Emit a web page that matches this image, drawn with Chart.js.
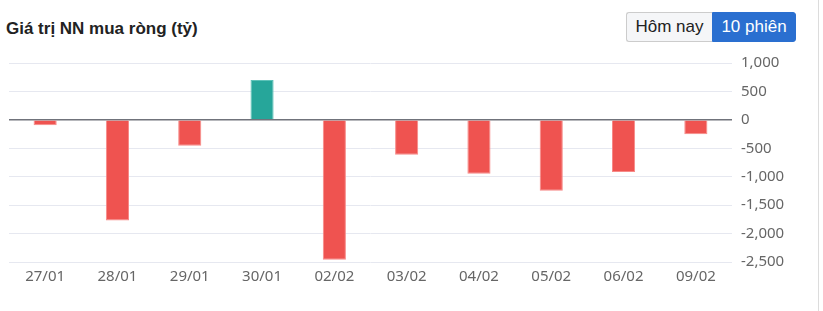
<!DOCTYPE html>
<html>
<head>
<meta charset="utf-8">
<script src="https://cdn.jsdelivr.net/npm/chart.js@4.4.1/dist/chart.umd.min.js"></script>
<style>
  html, body { margin: 0; padding: 0; background: #fff; }
  body { width: 823px; height: 311px; position: relative; overflow: hidden; }
  .frame { position: absolute; left: 0; top: 0; width: 818px; height: 311px; border-right: 1px solid #dcdcdc; }
  .title { position: absolute; left: 6px; top: 19px; font: bold 17px "Liberation Sans", Arial, sans-serif; color: #222; }
  .tabs { position: absolute; left: 626px; top: 12px; display: flex; font: 17px "Liberation Sans", Arial, sans-serif; }
  .tabs button { font: inherit; height: 30px; padding: 0 6px; border: 1px solid #ccc; background: #f5f6f8; color: #222; margin: 0; cursor: pointer; }
  .tabs button:first-child { border-radius: 3px 0 0 3px; border-right: none; width: 86px; }
  .tabs button.active { background: #2a6fd0; border-color: #2a6fd0; color: #fff; border-radius: 0 3px 3px 0; width: 84px; }
  .chart-box { position: absolute; left: 0; top: 45px; width: 818px; height: 266px; }
</style>
</head>
<body>
<div class="frame"></div>
<div class="title">Giá trị NN mua ròng (tỷ)</div>
<div class="tabs">
  <button>Hôm nay</button>
  <button class="active">10 phiên</button>
</div>
<div class="chart-box"><canvas id="netBuyChart"></canvas></div>
<script>
const sessions = ["27/01", "28/01", "29/01", "30/01", "02/02", "03/02", "04/02", "05/02", "06/02", "09/02"];
const netValues = [-95, -1770, -455, 700, -2460, -615, -948, -1248, -918, -255];
const yTicks = [1000, 500, 0, -500, -1000, -1500, -2000, -2500];

const upColor = "#26a69a";
const downColor = "#ef5350";

function fmt(value) {
  return Number(value).toLocaleString("en-US");
}

new Chart(document.getElementById("netBuyChart"), {
  type: "bar",
  data: {
    labels: sessions,
    datasets: [{
      data: netValues,
      backgroundColor: netValues.map((v) => (v >= 0 ? upColor : downColor)),
      borderColor: netValues.map((v) => (v >= 0 ? "#5cc2b8" : "#f78a88")),
      borderWidth: 1,
      barPercentage: 0.4,
      categoryPercentage: 0.8
    }]
  },
  options: {
    responsive: true,
    maintainAspectRatio: false,
    animation: false,
    layout: { padding: { left: 9, top: 0, right: 0, bottom: 0 } },
    plugins: {
      legend: { display: false },
      tooltip: { enabled: false }
    },
    scales: {
      x: {
        grid: { display: false, drawTicks: false },
        border: { display: false },
        ticks: {
          color: "#666",
          font: { family: "Noto Sans", size: 15 },
          padding: 6,
          maxRotation: 0
        },
        afterFit: (scale) => { scale.height = 49; }
      },
      y: {
        position: "right",
        min: yTicks[yTicks.length - 1],
        max: yTicks[0],
        afterBuildTicks: (scale) => { scale.ticks = yTicks.map((v) => ({ value: v })); },
        border: { display: false },
        grid: {
          drawTicks: false,
          color: (ctx) => (ctx.tick && ctx.tick.value === 0 ? "#70737b" : "#e6e8f0"),
          lineWidth: (ctx) => (ctx.tick && ctx.tick.value === 0 ? 1.5 : 1)
        },
        ticks: {
          color: "#666",
          font: { family: "Noto Sans", size: 15 },
          padding: 9,
          callback: (value) => fmt(value)
        },
        afterFit: (scale) => { scale.width = 86; }
      }
    }
  }
});
</script>
</body>
</html>
